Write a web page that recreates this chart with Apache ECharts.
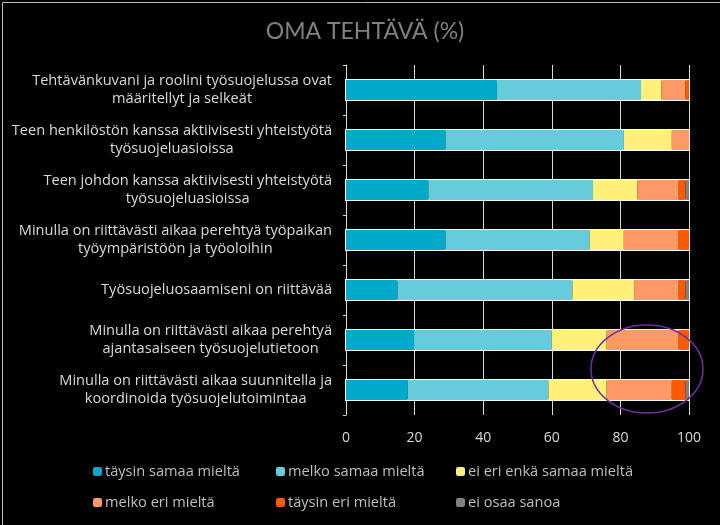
<!DOCTYPE html>
<html>
<head>
<meta charset="utf-8">
<script src="https://cdn.jsdelivr.net/npm/echarts@6/dist/echarts.min.js"></script>
<style>
html,body{margin:0;padding:0;background:#000;}
#chart{width:720px;height:525px;}
</style>
</head>
<body>
<div id="chart"></div>
<script>
const categories = [
  "Tehtävänkuvani ja roolini työsuojelussa ovat\nmääritellyt ja selkeät",
  "Teen henkilöstön kanssa aktiivisesti yhteistyötä\ntyösuojeluasioissa",
  "Teen johdon kanssa aktiivisesti yhteistyötä\ntyösuojeluasioissa",
  "Minulla on riittävästi aikaa perehtyä työpaikan\ntyöympäristöön ja työoloihin",
  "Työsuojeluosaamiseni on riittävää",
  "Minulla on riittävästi aikaa perehtyä\najantasaiseen työsuojelutietoon",
  "Minulla on riittävästi aikaa suunnitella ja\nkoordinoida työsuojelutoimintaa"
];
const seriesNames = ["täysin samaa mieltä", "melko samaa mieltä", "ei eri enkä samaa mieltä", "melko eri mieltä", "täysin eri mieltä", "ei osaa sanoa"];
const taysinSamaa = [44, 29, 24, 29, 15, 20, 18];
const melkoSamaa  = [42, 52, 48, 42, 51, 40, 41];
const eiEriEnka   = [6, 14, 13, 10, 18, 16, 17];
const melkoEri    = [7, 5, 12, 16, 13, 21, 19];
const taysinEri   = [1, 0, 2, 3, 2, 3, 4];
const eiOsaa      = [0, 0, 1, 0, 1, 0, 1];
const xTicks = [0, 20, 40, 60, 80, 100];
const colors = ["#00aac8", "#66ccdc", "#fff07a", "#ff9966", "#ff5a00", "#808080"];

const values = [taysinSamaa, melkoSamaa, eiEriEnka, melkoEri, taysinEri, eiOsaa];
const FONT = "Open Sans";
const labelColor = "#d9d9d9";

const series = seriesNames.map((name, i) => ({
  name: name,
  type: "bar",
  stack: "total",
  barWidth: 20,
  data: values[i],
  itemStyle: { color: colors[i] },
  showBackground: i === 0,
  backgroundStyle: { color: "rgba(0,0,0,0)", borderColor: "#ffffff", borderWidth: 2 }
}));

const chart = echarts.init(document.getElementById("chart"), null, { renderer: "canvas" });
chart.setOption({
  backgroundColor: "#000000",
  animation: false,
  title: {
    text: "OMA TEHTÄVÄ (%)",
    left: 360, textAlign: "center", top: 15,
    textStyle: { color: "#808080", fontFamily: "Lato", fontSize: 23, fontWeight: "normal" }
  },
  grid: { left: 346, right: 31, top: 65, bottom: 110, containLabel: false },
  xAxis: {
    type: "value", min: 0, max: 100, interval: 20,
    axisLine: { show: false }, axisTick: { show: false },
    splitLine: { show: true, lineStyle: { color: "#d9d9d9", width: 1 } },
    axisLabel: {
      color: labelColor, fontFamily: FONT, fontSize: 14, margin: 16,
      formatter: v => xTicks.includes(v) ? String(v) : ""
    }
  },
  yAxis: {
    type: "category", inverse: true, data: categories,
    axisLine: { show: true, lineStyle: { color: "#d9d9d9" } },
    axisTick: { show: true, length: 3, lineStyle: { color: "#d9d9d9" } },
    axisLabel: {
      margin: 14, align: "right", color: labelColor, fontFamily: FONT, fontSize: 14.6,
      formatter: v => v.split("\n").map(l => "{c|" + l + "}").join("\n"),
      rich: { c: { align: "center", color: labelColor, fontFamily: FONT, fontSize: 14.6, lineHeight: 18 } }
    }
  },
  legend: [
    { data: [seriesNames[0], seriesNames[3]], left: 88 },
    { data: [seriesNames[1], seriesNames[4]], left: 271 },
    { data: [seriesNames[2], seriesNames[5]], left: 451 }
  ].map(l => Object.assign({
    orient: "vertical", top: 459, itemGap: 16, itemWidth: 9, itemHeight: 9,
    icon: "roundRect", selectedMode: false,
    textStyle: { color: "#bfbfbf", fontFamily: FONT, fontSize: 14.6, padding: [0, 0, 0, -2] }
  }, l)),
  graphic: [
    { type: "rect", left: 0, top: 0, shape: { x: 0.5, y: 0.5, width: 719, height: 524 },
      style: { fill: "none", stroke: "#bfbfbf", lineWidth: 1 }, silent: true },
    { type: "ellipse", shape: { cx: 647, cy: 369, rx: 56, ry: 44 },
      style: { fill: "none", stroke: "#7030a0", lineWidth: 1.5 }, silent: true, z: 100 }
  ],
  series: series
});
</script>
</body>
</html>
